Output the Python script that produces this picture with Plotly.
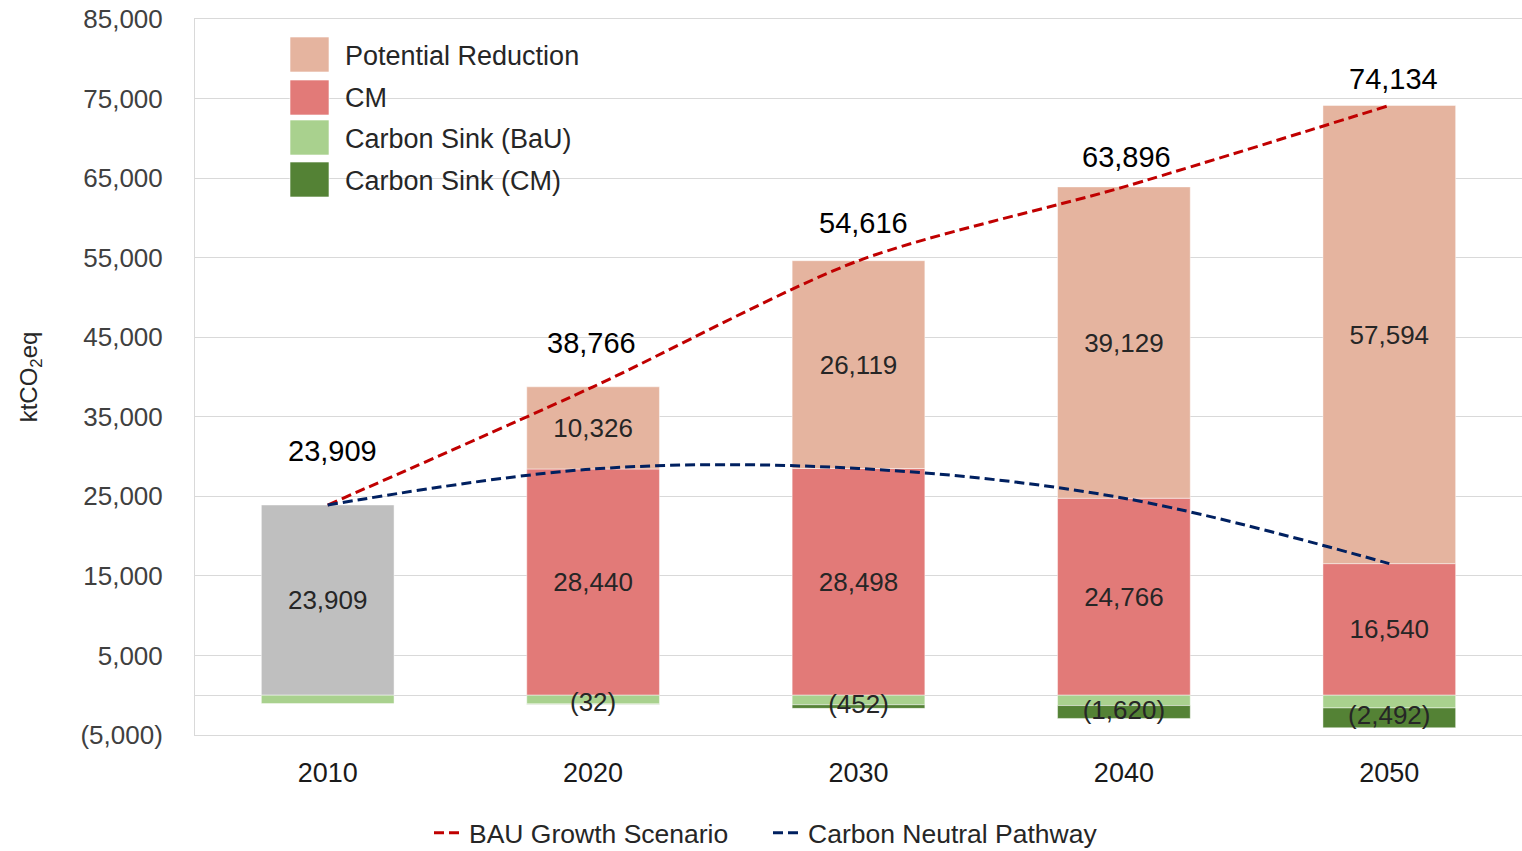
import plotly.graph_objects as go

# ---------------- data ----------------
years = ["2010", "2020", "2030", "2040", "2050"]
base_2010 = [23909, None, None, None, None]
cm = [None, 28440, 28498, 24766, 16540]
potential = [None, 10326, 26119, 39129, 57594]
sink_bau = [-1050, -1100, -1200, -1300, -1600]
sink_cm = [None, -32, -452, -1620, -2492]
bau_growth = [23909, 38766, 54616, 63896, 74134]
carbon_neutral = [23909, 28440, 28498, 24766, 16540]
y_ticks = [-5000, 5000, 15000, 25000, 35000, 45000, 55000, 65000, 75000, 85000]

# ---------------- styles ----------------
C_GRAY = "#BFBFBF"
C_CM = "#E27A78"
C_POT = "#E5B49F"
C_SBAU = "#A9D18E"
C_SCM = "#548235"
C_RED = "#C00000"
C_BLUE = "#002060"
FONT = "Liberation Sans"
TXT = "#262626"
GRID = "#d9d9d9"
total_shift_y = [54, 44, 38, 30, 26]
total_shift_x = [5, -2, 5, 3, 4]

W, H = 1522, 851
# plot area in page pixels: left 195, top 19, right 1522, bottom 735
ML, MT, MR, MB = 195, 19, 0, 851 - 735


def px_x(px):
    return (px - ML) / (W - ML - MR)


def px_y(py):
    return (H - MB - py) / (H - MT - MB)


def fmt(v):
    if v is None:
        return None
    return f"({abs(v):,})" if v < 0 else f"{v:,}"


fig = go.Figure()
edge = dict(color="rgba(255,255,255,0.45)", width=1)
lbl_font = dict(family=FONT, size=26, color=TXT)

fig.add_trace(go.Bar(x=years, y=base_2010, marker=dict(color=C_GRAY, line=edge), width=0.5,
                     text=[fmt(v) for v in base_2010], textposition="inside",
                     insidetextanchor="middle", textangle=0, textfont=lbl_font,
                     showlegend=False, name="2010"))
fig.add_trace(go.Bar(x=years, y=cm, marker=dict(color=C_CM, line=edge), width=0.5,
                     text=[fmt(v) for v in cm], textposition="inside",
                     insidetextanchor="middle", textangle=0, textfont=lbl_font,
                     showlegend=False, name="CM"))
fig.add_trace(go.Bar(x=years, y=potential, marker=dict(color=C_POT, line=edge), width=0.5,
                     text=[fmt(v) for v in potential], textposition="inside",
                     insidetextanchor="middle", textangle=0, textfont=lbl_font,
                     showlegend=False, name="Potential Reduction"))
fig.add_trace(go.Bar(x=years, y=sink_bau, marker=dict(color=C_SBAU, line=edge), width=0.5,
                     showlegend=False, name="Carbon Sink (BaU)", textposition="none"))
fig.add_trace(go.Bar(x=years, y=sink_cm, marker=dict(color=C_SCM, line=edge), width=0.5,
                     showlegend=False, name="Carbon Sink (CM)", textposition="none"))

# sink labels centred on the CM sink segment
sink_pts = [(yr, b + c / 2, fmt(c)) for yr, b, c in zip(years, sink_bau, sink_cm) if c is not None]
fig.add_trace(go.Scatter(x=[p[0] for p in sink_pts], y=[p[1] for p in sink_pts], mode="text",
                         text=[p[2] for p in sink_pts], textposition="middle center",
                         textfont=lbl_font, showlegend=False, hoverinfo="skip"))

# lines
fig.add_trace(go.Scatter(x=years, y=bau_growth, mode="lines", name="BAU Growth Scenario",
                         line=dict(color=C_RED, width=3, dash="10px,5px", shape="spline",
                                   smoothing=0.8)))
fig.add_trace(go.Scatter(x=years, y=carbon_neutral, mode="lines", name="Carbon Neutral Pathway",
                         line=dict(color=C_BLUE, width=3, dash="10px,5px", shape="spline",
                                   smoothing=1.0)))

# totals above bars (category axis: annotation x is the category index)
for i, tot in enumerate(bau_growth):
    fig.add_annotation(x=i, y=tot, text=fmt(tot), showarrow=False,
                       yanchor="middle", xanchor="center",
                       yshift=total_shift_y[i], xshift=total_shift_x[i],
                       font=dict(family=FONT, size=29, color="#000000"))

# manual top-left legend for the bars
legend_items = [("Potential Reduction", C_POT, 37, 72),
                ("CM", C_CM, 80, 115),
                ("Carbon Sink (BaU)", C_SBAU, 120, 155),
                ("Carbon Sink (CM)", C_SCM, 162, 197)]
for label, col, t, b in legend_items:
    fig.add_shape(type="rect", xref="paper", yref="paper",
                  x0=px_x(290), x1=px_x(329), y0=px_y(b), y1=px_y(t),
                  fillcolor=col, line=dict(color="rgba(255,255,255,0.6)", width=1),
                  layer="above")
    fig.add_annotation(xref="paper", yref="paper", x=px_x(343), y=px_y((t + b) / 2 + 1),
                       text=label, showarrow=False, xanchor="left", yanchor="middle",
                       font=dict(family=FONT, size=27, color=TXT))

fig.update_layout(
    width=W, height=H,
    margin=dict(l=ML, r=MR, t=MT, b=MB, autoexpand=False),
    barmode="relative",
    paper_bgcolor="white", plot_bgcolor="white",
    font=dict(family=FONT, color=TXT),
    legend=dict(orientation="h", x=px_x(429), xanchor="left", y=px_y(833),
                yanchor="middle", font=dict(family=FONT, size=26.5, color=TXT),
                bgcolor="rgba(0,0,0,0)", entrywidth=294, entrywidthmode="pixels",
                itemwidth=30),
    xaxis=dict(type="category", range=[-0.5, 4.5], showgrid=False,
               showline=True, mirror=True, linecolor=GRID, linewidth=1,
               zeroline=False, tickfont=dict(family=FONT, size=27, color="#1a1a1a"),
               ticklabelstandoff=14),
    yaxis=dict(range=[-5000, 85000], tickvals=y_ticks, ticktext=[fmt(v) for v in y_ticks],
               showgrid=True, gridcolor=GRID, gridwidth=1,
               zeroline=True, zerolinecolor=GRID, zerolinewidth=1,
               showline=True, linecolor=GRID, linewidth=1,
               tickfont=dict(family=FONT, size=26, color="#404040"),
               ticklabelstandoff=26, ticklabeloverflow="allow",
               title=dict(text="ktCO<sub>2</sub>eq", standoff=36,
                          font=dict(family=FONT, size=24, color=TXT))),
)

fig.write_html("out.html",
               config={"displayModeBar": False},
               post_script="document.body.style.margin='0';"
                           "document.body.style.overflow='hidden';")
